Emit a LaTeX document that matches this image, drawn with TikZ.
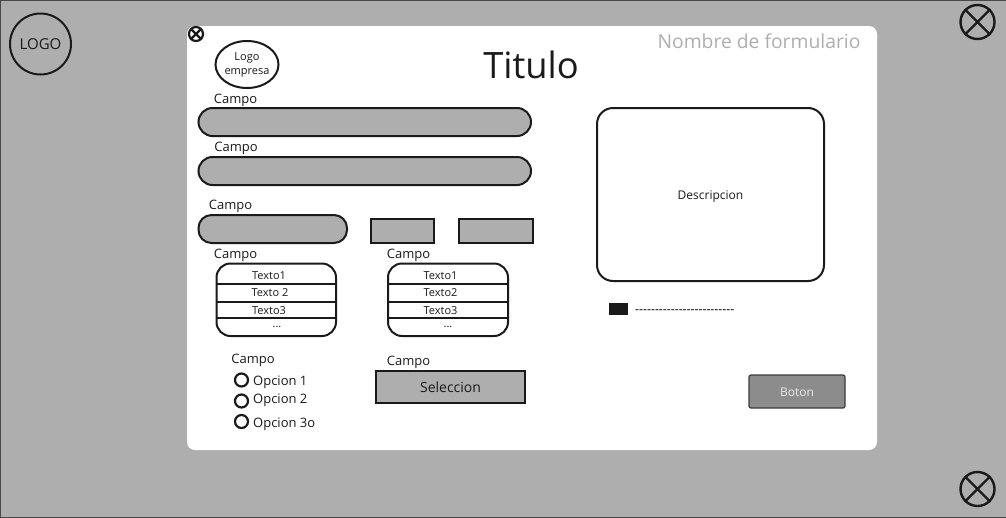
\documentclass[tikz,border=0pt]{standalone}
\usepackage{fontspec}
\usetikzlibrary{shapes.geometric}
\newfontfamily\ofont{Open Sans}
\definecolor{bggray}{HTML}{AEAEAE}
\definecolor{ink}{HTML}{1A1A1A}
\definecolor{btn}{HTML}{8C8C8C}
\newcommand{\fsz}[1]{\fontsize{#1}{#1}\selectfont\ofont}
\tikzset{
  line/.style={draw=ink,line width=2pt},
  field/.style={line,fill=bggray},
  lbl/.style={inner sep=0pt,text=ink,font=\fsz{13},yshift=-2pt},
  small/.style={inner sep=0pt,text=ink,font=\fsz{11},yshift=-1pt},
  radio/.style={circle,draw=ink,line width=2.2pt,fill=white,minimum size=13pt,inner sep=0pt},
  opt/.style={lbl,anchor=west},
  xcirc/.style={circle,draw=ink,fill=none,inner sep=0pt}
}
\newcommand{\xmark}[5]{%
  \node[xcirc,line width=#5,minimum size=#4pt] (#1) at (#2,#3) {};
  \draw[ink,line width=#5] (#1.45) -- (#1.225) (#1.135) -- (#1.315);
}
\begin{document}
\begin{tikzpicture}[x=1pt,y=-1pt]
\useasboundingbox (0,0) rectangle (1006,517);
\fill[bggray] (0,0) rectangle (1006,517);
\draw[ink!80,line width=1pt] (0,0) rectangle (1006,517);
% panel
\fill[white,rounded corners=8pt] (187,26) rectangle (877,450);
% logo
\node[circle,draw=ink,line width=2pt,minimum size=61pt,inner sep=0pt,font=\fsz{15},text=ink] (logo) at (40.5,44) {LOGO};
\xmark{xa}{977.5}{22}{34}{2.4pt}
\xmark{xb}{977.5}{489}{34}{2.4pt}
\xmark{xc}{196}{34}{14}{2.2pt}
% logo empresa
\node[ellipse,draw=ink,line width=2pt,minimum width=63pt,minimum height=47pt,inner sep=0pt] (le) at (247,64.5) {};
\node[small] (le1) at (247,57) {Logo};
\node[small] (le2) at (247,72) {empresa};
% heading
\node[inner sep=0pt,font=\fsz{36.3},text=ink] (title) at (531,65) {Titulo};
\node[inner sep=0pt,font=\fsz{19.3},text=bggray] (form) at (759,41) {Nombre de formulario};
% fields
\draw[field,rounded corners=14pt] (198.5,108) rectangle (531,136);
\draw[field,rounded corners=14pt] (198.5,157) rectangle (531,185);
\draw[field,rounded corners=13pt] (198.5,215) rectangle (347,243);
\draw[field] (371,218.5) rectangle (434,243);
\draw[field] (459,218.5) rectangle (533,243);
\node[lbl] (c1) at (235.5,98) {Campo};
\node[lbl] (c2) at (236,146.5) {Campo};
\node[lbl] (c3) at (230.5,204.5) {Campo};
\node[lbl] (c4) at (235.5,253.5) {Campo};
\node[lbl] (c5) at (408.5,253.5) {Campo};
\node[lbl] (c6) at (253,358.5) {Campo};
\node[lbl] (c7) at (408.5,360.5) {Campo};
% lists
\draw[line,rounded corners=14pt] (216.5,263.5) rectangle (336,336);
\draw[line] (216.5,283.5) -- (336,283.5) (216.5,301.5) -- (336,301.5) (216.5,318) -- (336,318);
\draw[line,rounded corners=14pt] (388,263.5) rectangle (508,336);
\draw[line] (388,283.5) -- (508,283.5) (388,301.5) -- (508,301.5) (388,318) -- (508,318);
\node[small] (a1) at (269,274.5) {Texto1};
\node[small] (a2) at (270,292) {Texto 2};
\node[small] (a3) at (269,309.5) {Texto3};
\node[small] (a4) at (277,326) {...};
\node[small] (b1) at (440.5,274.5) {Texto1};
\node[small] (b2) at (440.5,292) {Texto2};
\node[small] (b3) at (440.5,309.5) {Texto3};
\node[small] (b4) at (448,326) {...};
% radios
\node[radio] (r1) at (241.5,380) {};
\node[radio] (r2) at (241.5,401) {};
\node[radio] (r3) at (241.5,421.5) {};
\node[opt] (o1) at (253,380.5) {Opcion 1};
\node[opt] (o2) at (253,398.5) {Opcion 2};
\node[opt] (o3) at (253,422) {Opcion 3o};
% select
\node[field,minimum width=149pt,minimum height=32pt,inner sep=0pt,font=\fsz{14},text=ink] (sel) at (450.5,387) {Seleccion};
% description
\node[line,rounded corners=16pt,minimum width=227pt,minimum height=173pt,inner sep=0pt] (desc) at (710.5,194.5) {};
\node[inner sep=0pt,font=\fsz{12},text=ink,yshift=-2pt] (desctext) at (710.5,194.5) {Descripcion};
\fill[ink] (609,303) rectangle (628,315);
\node[inner sep=0pt,anchor=west,font=\fsz{12.3},text=black,yshift=-3.5pt] (dash) at (635,308) {-------------------------};
% button
\node[draw=ink!85,line width=1.2pt,fill=btn,rounded corners=2pt,minimum width=96pt,minimum height=33pt,inner sep=0pt] (boton) at (797,391.5) {};
\node[inner sep=0pt,font=\fsz{12},text=white!92!black,yshift=-1pt] (botontext) at (797,391.5) {Boton};
\end{tikzpicture}
\end{document}
